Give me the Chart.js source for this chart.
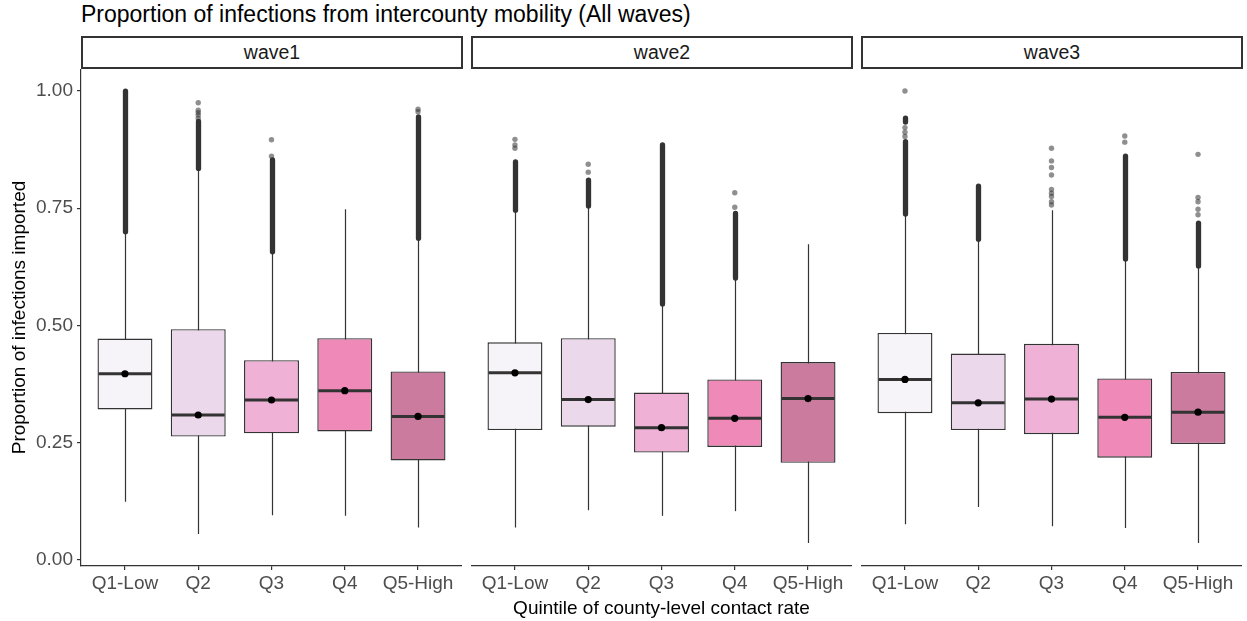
<!DOCTYPE html>
<html>
<head>
<meta charset="utf-8">
<script src="https://cdn.jsdelivr.net/npm/chart.js@4.4.0/dist/chart.umd.min.js"></script>
<style>
  body { margin: 0; background: #fff; font-family: "Liberation Sans", Arial, sans-serif; }
  #page { position: relative; width: 1247px; height: 621px; overflow: hidden; background: #fff; }
  .title { position: absolute; left: 81px; top: 1px; font-size: 23px; color: #000; white-space: nowrap; }
  .strip { position: absolute; top: 36px; width: 382px; height: 33px; box-sizing: border-box;
           border: 2px solid #333; text-align: center; line-height: 29px; font-size: 19.5px; color: #1a1a1a; }
  canvas { position: absolute; top: 69px; }
</style>
</head>
<body>
<div id="page">
  <div class="title">Proportion of infections from intercounty mobility (All waves)</div>
  <div class="strip" style="left:81px">wave1</div>
  <div class="strip" style="left:471px">wave2</div>
  <div class="strip" style="left:861px">wave3</div>
  <canvas id="panel1" width="462" height="552" style="left:0"></canvas>
  <canvas id="panel2" width="381" height="552" style="left:471px"></canvas>
  <canvas id="panel3" width="381" height="552" style="left:861px"></canvas>
</div>
<script>
const categories = ['Q1-Low', 'Q2', 'Q3', 'Q4', 'Q5-High'];
const yTicks = [0, 0.25, 0.5, 0.75, 1];
const boxFills = ['#f7f4f9', '#ebd9eb', '#efb1d6', '#ee89b8', '#ca7b9e'];

// [lower whisker, Q1, median, Q3, upper whisker]
const wave1Stats = [
  [0.124, 0.321, 0.397, 0.472, 0.698],
  [0.055, 0.263, 0.309, 0.492, 0.833],
  [0.095, 0.270, 0.341, 0.426, 0.655],
  [0.094, 0.274, 0.361, 0.473, 0.748],
  [0.069, 0.212, 0.306, 0.402, 0.684]
];
const wave2Stats = [
  [0.069, 0.277, 0.399, 0.464, 0.744],
  [0.106, 0.284, 0.342, 0.473, 0.753],
  [0.094, 0.229, 0.282, 0.357, 0.544],
  [0.104, 0.241, 0.302, 0.385, 0.599],
  [0.036, 0.207, 0.344, 0.422, 0.673]
];
const wave3Stats = [
  [0.076, 0.313, 0.385, 0.484, 0.736],
  [0.113, 0.277, 0.335, 0.440, 0.682],
  [0.072, 0.268, 0.343, 0.461, 0.746],
  [0.068, 0.218, 0.304, 0.387, 0.640],
  [0.036, 0.247, 0.315, 0.401, 0.625]
];

// runs of overlapping outliers, [from, to]
const wave1Dense = [[[0.700, 1.000]], [[0.835, 0.935]], [[0.657, 0.853]], [], [[0.686, 0.945]]];
const wave2Dense = [[[0.746, 0.849]], [[0.755, 0.810]], [[0.546, 0.885]], [[0.601, 0.739]], []];
const wave3Dense = [[[0.738, 0.892], [0.934, 0.942]], [[0.684, 0.797]], [], [[0.642, 0.861]], [[0.627, 0.718]]];

// isolated outliers
const wave1Outliers = [[], [0.942, 0.949, 0.954, 0.959, 0.975], [0.861, 0.896], [], [0.956, 0.961]];
const wave2Outliers = [[0.878, 0.885, 0.897], [0.827, 0.844], [], [0.752, 0.783], []];
const wave3Outliers = [
  [0.903, 0.912, 0.922, 1.0],
  [],
  [0.757, 0.764, 0.775, 0.782, 0.790, 0.821, 0.837, 0.851, 0.878],
  [0.891, 0.904],
  [0.736, 0.748, 0.764, 0.773, 0.865]
];

Chart.defaults.font.family = '"Liberation Sans", Arial, sans-serif';

// whiskers, outlier runs, medians and median dots
function boxParts(stats, dense) {
  return {
    id: 'boxParts',
    beforeDatasetsDraw(chart) {
      const { ctx, scales: { x, y } } = chart;
      ctx.save();
      ctx.strokeStyle = '#333333';
      ctx.lineWidth = 1.2;
      stats.forEach((s, i) => {
        const px = Math.round(x.getPixelForValue(i + 1)) + 0.5;
        ctx.beginPath();
        ctx.moveTo(px, y.getPixelForValue(s[0]));
        ctx.lineTo(px, y.getPixelForValue(s[4]));
        ctx.stroke();
      });
      ctx.lineWidth = 5.3;
      ctx.lineCap = 'round';
      dense.forEach((runs, i) => {
        const px = Math.round(x.getPixelForValue(i + 1)) + 0.5;
        runs.forEach(r => {
          ctx.beginPath();
          ctx.moveTo(px, y.getPixelForValue(r[0]));
          ctx.lineTo(px, y.getPixelForValue(r[1]));
          ctx.stroke();
        });
      });
      ctx.restore();
    },
    afterDatasetsDraw(chart) {
      const { ctx, scales: { y } } = chart;
      const meta = chart.getDatasetMeta(0);
      ctx.save();
      meta.data.forEach((bar, i) => {
        const py = y.getPixelForValue(stats[i][2]);
        ctx.strokeStyle = '#333333';
        ctx.lineWidth = 3;
        ctx.beginPath();
        ctx.moveTo(bar.x - bar.width / 2 + 1, py);
        ctx.lineTo(bar.x + bar.width / 2 - 1, py);
        ctx.stroke();
        ctx.fillStyle = '#000000';
        ctx.beginPath();
        ctx.arc(bar.x, py, 3.6, 0, Math.PI * 2);
        ctx.fill();
      });
      ctx.restore();
    }
  };
}

function createPanel(canvasId, stats, dense, outliers, showY, xTitle) {
  const ctx = document.getElementById(canvasId).getContext('2d');
  return new Chart(ctx, {
    type: 'bar',
    data: {
      datasets: [{
        label: 'box',
        data: stats.map((s, i) => ({ x: i + 1, y: [s[1], s[3]] })),
        backgroundColor: boxFills,
        borderColor: '#333333',
        borderWidth: 1.4,
        borderSkipped: false,
        barPercentage: 0.75,
        categoryPercentage: 1,
        grouped: false
      }, {
        type: 'scatter',
        label: 'outliers',
        data: outliers.flatMap((vals, i) => vals.map(v => ({ x: i + 1, y: v }))),
        pointRadius: 2.7,
        pointBackgroundColor: 'rgba(51,51,51,0.55)',
        pointBorderWidth: 0
      }]
    },
    options: {
      responsive: false,
      animation: false,
      events: [],
      layout: { padding: 0, autoPadding: false },
      plugins: {
        legend: { display: false },
        tooltip: { enabled: false }
      },
      scales: {
        x: {
          type: 'linear',
          offset: false,
          min: 0.4,
          max: 5.6,
          afterBuildTicks: s => { s.ticks = categories.map((c, i) => ({ value: i + 1 })); },
          afterFit: s => { s.height = 55; s.paddingLeft = 0; s.paddingRight = 0; },
          ticks: {
            callback: v => categories[v - 1],
            color: '#4d4d4d',
            font: { size: 19 },
            padding: 2,
            maxRotation: 0,
            autoSkip: false
          },
          grid: { display: true, offset: false, drawOnChartArea: false, drawTicks: true, tickLength: 4, color: '#333333', lineWidth: 1.2 },
          border: { display: true, color: '#333333', width: 1.2 },
          title: {
            display: !!xTitle,
            text: xTitle || '',
            color: '#000000',
            font: { size: 19 },
            padding: { top: 0, bottom: 1 }
          }
        },
        y: {
          display: showY,
          min: -0.013,
          max: 1.047,
          afterBuildTicks: s => { s.ticks = yTicks.map(v => ({ value: v })); },
          afterFit: s => {
            if (showY) s.width = 81;
            s.paddingTop = 0;
            s.paddingBottom = 0;
          },
          ticks: {
            callback: v => v.toFixed(2),
            color: '#4d4d4d',
            font: { size: 19 },
            padding: 4
          },
          grid: { display: true, offset: false, drawOnChartArea: false, drawTicks: true, tickLength: 4, color: '#333333', lineWidth: 1.2 },
          border: { display: true, color: '#333333', width: 1.2 },
          title: {
            display: true,
            text: 'Proportion of infections imported',
            color: '#000000',
            font: { size: 19 },
            padding: { top: 8, bottom: 0 }
          }
        }
      }
    },
    plugins: [boxParts(stats, dense)]
  });
}

createPanel('panel1', wave1Stats, wave1Dense, wave1Outliers, true, null);
createPanel('panel2', wave2Stats, wave2Dense, wave2Outliers, false, 'Quintile of county-level contact rate');
createPanel('panel3', wave3Stats, wave3Dense, wave3Outliers, false, null);
</script>
</body>
</html>
